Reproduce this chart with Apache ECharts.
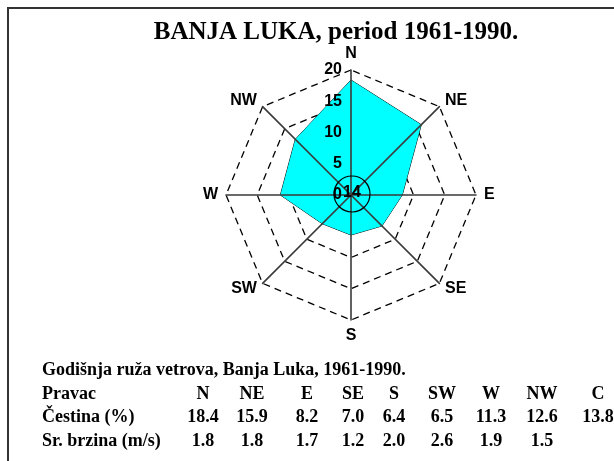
<!DOCTYPE html>
<html>
<head>
<meta charset="utf-8">
<script src="https://cdn.jsdelivr.net/npm/echarts@6/dist/echarts.min.js"></script>
<style>
  html, body { margin: 0; padding: 0; background: #fff; }
  #main { width: 614px; height: 461px; }
</style>
</head>
<body>
<div id="main"></div>
<script>
var smjerovi = ['N', 'NE', 'E', 'SE', 'S', 'SW', 'W', 'NW'];
var cestina = [18.4, 15.9, 8.2, 7.0, 6.4, 6.5, 11.3, 12.6];   // %
var brzina = [1.8, 1.8, 1.7, 1.2, 2.0, 2.6, 1.9, 1.5];        // m/s
var tisina = 13.8;                                            // C (calm), %
var skalaMax = 20;

var myChart = echarts.init(document.getElementById('main'));

// radar ide suprotno od kazaljke, pa obrnemo redoslijed (N, NW, W ... NE)
var redoslijed = [0, 7, 6, 5, 4, 3, 2, 1];
var centar = [351, 195];
var radijus = 125;
var sans = 'Liberation Sans, Arial, sans-serif';
var serif = 'Liberation Serif, Times New Roman, serif';

var indikatori = redoslijed.map(function (i) {
  return { name: smjerovi[i], min: 0, max: skalaMax };
});
var indikatoriGore = redoslijed.map(function (i, k) {
  var ind = { name: smjerovi[i], min: 0, max: skalaMax };
  if (k === 0) ind.axisLabel = { show: true };
  return ind;
});

// tabela ispod
var kolone = [203, 252, 307, 353, 394, 442, 491, 542, 598];
var redovi = [370, 394, 417, 441];
var tabela = [];
function tekst(x, y, s, align) {
  tabela.push({
    type: 'text', x: x, y: y, z: 20,
    style: { text: s, font: 'bold 18px ' + serif, fill: '#000', textAlign: align || 'center', textVerticalAlign: 'middle' }
  });
}
tekst(42, redovi[0], 'Godišnja ruža vetrova, Banja Luka, 1961-1990.', 'left');
tekst(42, redovi[1], 'Pravac', 'left');
tekst(42, redovi[2], 'Čestina (%)', 'left');
tekst(42, redovi[3], 'Sr. brzina (m/s)', 'left');
smjerovi.concat(['C']).forEach(function (s, i) { tekst(kolone[i], redovi[1], s); });
cestina.concat([tisina]).forEach(function (v, i) { tekst(kolone[i], redovi[2], v.toFixed(1)); });
brzina.forEach(function (v, i) { tekst(kolone[i], redovi[3], v.toFixed(1)); });

myChart.setOption({
  backgroundColor: '#fff',
  animation: false,
  radar: [
    {
      center: centar, radius: radijus, startAngle: 90, splitNumber: 4, shape: 'polygon', z: 1,
      indicator: indikatori,
      axisName: { show: false },
      axisLine: { show: false },
      splitArea: { show: false },
      splitLine: { lineStyle: { color: '#000', width: 1.3, type: [7, 5] } }
    },
    {
      center: centar, radius: radijus, startAngle: 90, splitNumber: 4, shape: 'polygon', z: 3,
      indicator: indikatoriGore,
      nameGap: 8,
      axisName: { color: '#000', fontSize: 16, fontWeight: 'bold', fontFamily: sans },
      axisLine: { lineStyle: { color: '#3a3a3a', width: 1.6 } },
      axisLabel: { show: false, color: '#000', fontSize: 16, fontWeight: 'bold', fontFamily: sans, margin: 9 },
      splitArea: { show: false },
      splitLine: { show: false }
    }
  ],
  series: [{
    type: 'radar',
    radarIndex: 0,
    z: 2,
    symbol: 'none',
    lineStyle: { color: '#000', width: 1 },
    areaStyle: { color: '#00ffff', opacity: 1 },
    data: [{ value: redoslijed.map(function (i) { return cestina[i]; }) }]
  }],
  graphic: [
    { type: 'rect', z: 0, shape: { x: 8, y: 8, width: 700, height: 600 },
      style: { fill: 'none', stroke: '#333', lineWidth: 2 } },
    { type: 'text', x: 336, y: 33, z: 20,
      style: { text: 'BANJA LUKA, period 1961-1990.', font: 'bold 25px ' + serif, fill: '#000', textAlign: 'center', textVerticalAlign: 'middle' } },
    { type: 'circle', z: 10, shape: { cx: centar[0] + 1, cy: centar[1] - 1, r: 18 },
      style: { fill: 'none', stroke: '#000', lineWidth: 1.2 } },
    { type: 'text', x: centar[0] + 1, y: centar[1] - 2, z: 11,
      style: { text: String(Math.round(tisina)), font: 'bold 16px ' + sans, fill: '#000', textAlign: 'center', textVerticalAlign: 'middle' } }
  ].concat(tabela)
});
</script>
</body>
</html>
